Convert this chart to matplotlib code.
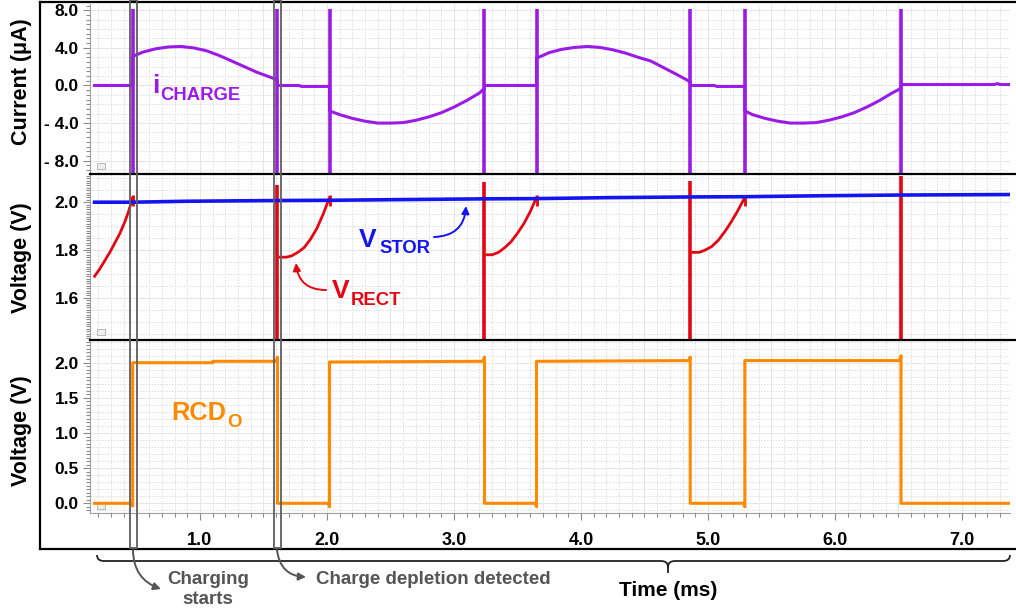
import numpy as np
import matplotlib
matplotlib.use('Agg')
import matplotlib.pyplot as plt
from matplotlib.patches import Rectangle, FancyArrowPatch, PathPatch
from matplotlib.path import Path
from matplotlib.lines import Line2D
from matplotlib.transforms import blended_transform_factory
from matplotlib.ticker import MultipleLocator

# ---------------- data ----------------
# charging current (uA)
charge_t = [0.17, 0.47, 0.47, 0.55, 0.65, 0.75, 0.85, 0.95, 1.05, 1.15, 1.25, 1.35, 1.45, 1.55, 1.61,
            1.61, 1.78, 1.80, 2.02,
            2.02, 2.10, 2.20, 2.30, 2.40, 2.50, 2.60, 2.70, 2.80, 2.90, 3.00, 3.10, 3.20, 3.24,
            3.24, 3.65,
            3.65, 3.75, 3.85, 3.95, 4.05, 4.15, 4.25, 4.35, 4.45, 4.55, 4.65, 4.75, 4.86,
            4.86, 5.05, 5.07, 5.29,
            5.29, 5.35, 5.45, 5.55, 5.65, 5.75, 5.85, 5.95, 6.05, 6.15, 6.25, 6.35, 6.45, 6.52,
            6.52, 7.25, 7.28, 7.30, 7.37]
charge_i = [0.0, 0.0, 3.1, 3.55, 3.9, 4.1, 4.15, 4.0, 3.7, 3.2, 2.6, 2.0, 1.4, 0.9, 0.6,
            0.0, 0.0, -0.1, -0.1,
            -2.7, -3.1, -3.5, -3.8, -4.0, -4.0, -3.95, -3.7, -3.35, -2.9, -2.3, -1.6, -0.8, -0.3,
            0.0, 0.0,
            2.9, 3.5, 3.85, 4.05, 4.15, 4.05, 3.8, 3.45, 3.0, 2.6, 1.9, 1.2, 0.4,
            0.0, 0.0, -0.1, -0.1,
            -2.7, -3.1, -3.5, -3.8, -4.0, -4.0, -3.95, -3.7, -3.35, -2.9, -2.3, -1.6, -0.8, -0.3,
            0.1, 0.1, 0.2, 0.1, 0.1]
charge_spike_t = [0.47, 1.61, 2.02, 3.24, 3.65, 4.86, 5.29, 6.52]
charge_spike_top = 8.1

# rectifier voltage (V) segments
vrect_t1 = [0.17, 0.21, 0.25, 0.29, 0.33, 0.37, 0.41, 0.44, 0.47]
vrect_v1 = [1.69, 1.72, 1.755, 1.79, 1.83, 1.87, 1.92, 1.965, 2.02]
vrect_t2 = [1.63, 1.68, 1.72, 1.77, 1.82, 1.87, 1.92, 1.97, 2.02]
vrect_v2 = [1.77, 1.77, 1.775, 1.79, 1.81, 1.845, 1.89, 1.95, 2.02]
vrect_t3 = [3.26, 3.30, 3.35, 3.40, 3.45, 3.50, 3.55, 3.60, 3.65]
vrect_v3 = [1.78, 1.78, 1.79, 1.81, 1.835, 1.87, 1.91, 1.96, 2.02]
vrect_t4 = [4.88, 4.93, 4.98, 5.03, 5.08, 5.13, 5.18, 5.23, 5.29]
vrect_v4 = [1.79, 1.79, 1.80, 1.815, 1.84, 1.875, 1.915, 1.96, 2.02]
vrect_spike_t = [1.61, 3.24, 4.86, 6.52]
vrect_spike_top = [2.07, 2.085, 2.09, 2.11]
vrect_tick_t = [0.47, 2.02, 3.65, 5.29]
vrect_tick_lo, vrect_tick_hi = 1.985, 2.03

# storage voltage (V)
vstor_t = [0.17, 0.47, 0.90, 1.61, 2.02, 2.60, 3.24, 3.65, 4.20, 4.86, 5.29, 5.90, 6.52, 7.37]
vstor_v = [2.000, 2.000, 2.004, 2.007, 2.008, 2.011, 2.014, 2.015, 2.019, 2.022, 2.023, 2.027, 2.030, 2.032]

# RCD output (V)
rcd_t = [0.17, 0.46, 0.47, 0.47, 1.10, 1.10, 1.60, 1.61, 1.61, 2.01, 2.02, 2.02, 3.23, 3.24, 3.24,
         3.64, 3.65, 3.65, 4.85, 4.86, 4.86, 5.28, 5.29, 5.29, 6.51, 6.52, 6.52, 7.37]
rcd_v = [0.0, 0.0, -0.04, 2.0, 2.0, 2.02, 2.02, 2.08, 0.0, 0.0, -0.05, 2.01, 2.02, 2.08, 0.0,
         0.0, -0.05, 2.02, 2.03, 2.08, 0.0, 0.0, -0.05, 2.03, 2.03, 2.10, 0.0, 0.0]

# markers / ticks
event_boxes = [0.474, 1.61]
xtick_vals = [1, 2, 3, 4, 5, 6, 7]
xtick_labels = ['1.0', '2.0', '3.0', '4.0', '5.0', '6.0', '7.0']
y1_ticks = [8, 4, 0, -4, -8]
y1_labels = ['8.0', '4.0', '0.0', '- 4.0', '- 8.0']
y2_ticks = [2.0, 1.8, 1.6]
y2_labels = ['2.0', '1.8', '1.6']
y3_ticks = [2.0, 1.5, 1.0, 0.5, 0.0]
y3_labels = ['2.0', '1.5', '1.0', '0.5', '0.0']

PURPLE = '#9B1BE6'
RED = '#E30613'
BLUE = '#1414F0'
ORANGE = '#FF8A00'
GRAY = '#555555'

# ---------------- figure ----------------
W, H = 1016, 612
plt.rcParams['font.family'] = ['Liberation Sans', 'DejaVu Sans']
plt.rcParams['font.weight'] = 'bold'
fig = plt.figure(figsize=(W / 100, H / 100), dpi=100)


def fx(x):
    return x / W


def fy(y):
    return 1 - y / H


def add_ax(x0, y0, x1, y1):
    return fig.add_axes([fx(x0), fy(y1), (x1 - x0) / W, (y1 - y0) / H])


XLIM = (0.134, 7.378)
ax1 = add_ax(90, 4, 1010, 173)
ax2 = add_ax(90, 174, 1010, 339)
ax3 = add_ax(90, 340, 1010, 513)


def style(ax, ylim, yt, yl, minor, hgrid, hmajor):
    ax.set_xlim(*XLIM)
    ax.set_ylim(*ylim)
    for s in ['top', 'right', 'bottom']:
        ax.spines[s].set_visible(False)
    ax.spines['left'].set_color('#a0a0a0')
    ax.spines['left'].set_linewidth(0.8)
    ax.set_yticks(yt)
    ax.set_yticklabels(yl, fontsize=12.5, fontweight='bold')
    ax.yaxis.set_minor_locator(MultipleLocator(minor))
    ax.tick_params(axis='y', which='both', direction='out', color='#8a8a8a', width=0.8)
    ax.tick_params(axis='y', which='major', length=5, pad=3)
    ax.tick_params(axis='y', which='minor', length=3)
    ax.set_xticks([])
    for gx in np.arange(0.2, 7.4, 0.1):
        solid = abs(gx * 2 - round(gx * 2)) < 1e-6
        ax.axvline(gx, color='#e6e6e6' if solid else '#dddddd', lw=0.7,
                   ls='-' if solid else (0, (1.5, 1.5)), zorder=0)
    lo, hi = ylim
    k0 = int(np.ceil(lo / hgrid))
    k1 = int(np.floor(hi / hgrid))
    for k in range(k0, k1 + 1):
        gy = k * hgrid
        solid = abs(gy / hmajor - round(gy / hmajor)) < 1e-6
        ax.axhline(gy, color='#e6e6e6' if solid else '#dddddd', lw=0.7,
                   ls='-' if solid else (0, (1.5, 1.5)), zorder=0)
    # small simulator marker box in the lower-left corner of each panel
    ax.add_patch(Rectangle((0.008, 0.025), 0.008, 0.035, transform=ax.transAxes,
                           facecolor='#eeeeee', edgecolor='#b0b0b0', lw=0.6, zorder=1))


style(ax1, (-9.31, 8.67), y1_ticks, y1_labels, 0.5, 1.0, 4.0)
style(ax2, (1.4275, 2.118), y2_ticks, y2_labels, 0.01, 0.05, 0.2)
style(ax3, (-0.138, 2.323), y3_ticks, y3_labels, 0.05, 0.1, 0.5)

# ---- panel 1: current
ax1.plot(charge_t, charge_i, color=PURPLE, lw=2.2, solid_joinstyle='round', zorder=3)
ax1.vlines(charge_spike_t, -20, charge_spike_top, color=PURPLE, lw=2.6, zorder=3)

# ---- panel 2: voltages
for tt, vv in [(vrect_t1, vrect_v1), (vrect_t2, vrect_v2), (vrect_t3, vrect_v3), (vrect_t4, vrect_v4)]:
    ax2.plot(tt, vv, color=RED, lw=2.0, solid_joinstyle='round', zorder=3)
ax2.vlines(vrect_spike_t, 1.0, vrect_spike_top, color=RED, lw=2.6, zorder=3)
ax2.vlines(vrect_tick_t, vrect_tick_lo, vrect_tick_hi, color=RED, lw=2.0, zorder=3)
ax2.plot(vstor_t, vstor_v, color=BLUE, lw=2.6, zorder=4)

# ---- panel 3: RCD output
ax3.plot(rcd_t, rcd_v, color=ORANGE, lw=2.2, zorder=3)
ax3.spines['bottom'].set_visible(True)
ax3.spines['bottom'].set_color('#a0a0a0')
ax3.spines['bottom'].set_linewidth(0.8)
ax3.set_xticks(xtick_vals)
ax3.set_xticklabels(xtick_labels, fontsize=13, fontweight='bold')
ax3.xaxis.set_minor_locator(MultipleLocator(0.1))
ax3.tick_params(axis='x', which='both', direction='out', color='#8a8a8a', width=0.8)
ax3.tick_params(axis='x', which='major', length=5, pad=9)
ax3.tick_params(axis='x', which='minor', length=3)

# ---- axis labels
fig.text(fx(22), fy(82), 'Current (\u03bcA)', rotation=90, ha='center', va='center',
         fontsize=15.5, fontweight='bold')
fig.text(fx(22), fy(258), 'Voltage (V)', rotation=90, ha='center', va='center',
         fontsize=15.5, fontweight='bold')
fig.text(fx(22), fy(431), 'Voltage (V)', rotation=90, ha='center', va='center',
         fontsize=15.5, fontweight='bold')

# ---- frame lines
lw_frame = 1.6
for (xa, ya, xb, yb) in [(40, 2, 1016, 2), (40, 2, 40, 549), (40, 549, 1016, 549),
                         (90, 173.5, 1016, 173.5), (90, 339.5, 1016, 339.5)]:
    fig.add_artist(Line2D([fx(xa), fx(xb)], [fy(ya), fy(yb)], color='black', lw=lw_frame,
                          transform=fig.transFigure))

# ---- event boxes
btr = blended_transform_factory(ax3.transData, fig.transFigure)
for te in event_boxes:
    r = Rectangle((te - 0.027, fy(548)), 0.054, fy(0) - fy(548), transform=btr,
                  facecolor='none', edgecolor='#5f5f5f', lw=1.3, clip_on=False, zorder=10)
    fig.add_artist(r)

# ---- curve labels
def sublabel(x, y, main, sub, color, fs_main, fs_sub, xs, ys):
    fig.text(fx(x), fy(y), main, color=color, fontsize=fs_main, fontweight='bold',
             ha='left', va='baseline')
    fig.text(fx(xs), fy(ys), sub, color=color, fontsize=fs_sub, fontweight='bold',
             ha='left', va='baseline')


sublabel(152, 93, 'i', 'CHARGE', PURPLE, 19, 13.3, 160, 100)
sublabel(359, 247, 'V', 'STOR', BLUE, 19, 13.3, 379, 253)
sublabel(332, 298, 'V', 'RECT', RED, 19, 13.3, 351, 305)
sublabel(171, 420, 'RCD', 'O', ORANGE, 18.3, 13.5, 227, 427)

# ---- arrows
def farrow(p0, p1, rad, color, lw=1.4, ms=11):
    a = FancyArrowPatch((fx(p0[0]), fy(p0[1])), (fx(p1[0]), fy(p1[1])),
                        transform=fig.transFigure, connectionstyle=f'arc3,rad={rad}',
                        arrowstyle='-|>', mutation_scale=ms, color=color, lw=lw,
                        shrinkA=0, shrinkB=0, zorder=11)
    fig.add_artist(a)


farrow((326, 290), (296, 263), -0.45, RED)
farrow((434, 237), (466, 206), 0.45, BLUE)
farrow((133, 550), (161, 589), 0.35, GRAY)
farrow((277, 550), (306, 577), 0.42, GRAY)

# ---- bottom annotations
fig.text(fx(208), fy(571), 'Charging\nstarts', color=GRAY, fontsize=13.5, fontweight='bold',
         ha='center', va='top', linespacing=1.2)
fig.text(fx(316), fy(579), 'Charge depletion detected', color=GRAY, fontsize=13.5,
         fontweight='bold', ha='left', va='center')
fig.text(fx(668), fy(591), 'Time (ms)', color='black', fontsize=15, fontweight='bold',
         ha='center', va='center')

# bracket
bx0, bx1, bxm, by, btip = 97, 1010, 668, 561, 573
verts = [(bx0, by - 6), (bx0, by), (bx0 + 7, by), (bxm - 7, by), (bxm, by), (bxm, by + 6),
         (bxm, btip), (bxm, by + 6), (bxm, by), (bxm + 7, by), (bx1 - 7, by), (bx1, by), (bx1, by - 6)]
codes = [Path.MOVETO, Path.CURVE3, Path.CURVE3, Path.LINETO, Path.CURVE3, Path.CURVE3,
         Path.LINETO, Path.MOVETO, Path.CURVE3, Path.CURVE3, Path.LINETO, Path.CURVE3, Path.CURVE3]
bp = Path([(fx(x), fy(y)) for x, y in verts], codes)
fig.add_artist(PathPatch(bp, transform=fig.transFigure, facecolor='none', edgecolor='#222222',
                         lw=1.3))

fig.savefig('out.png', dpi=100)
